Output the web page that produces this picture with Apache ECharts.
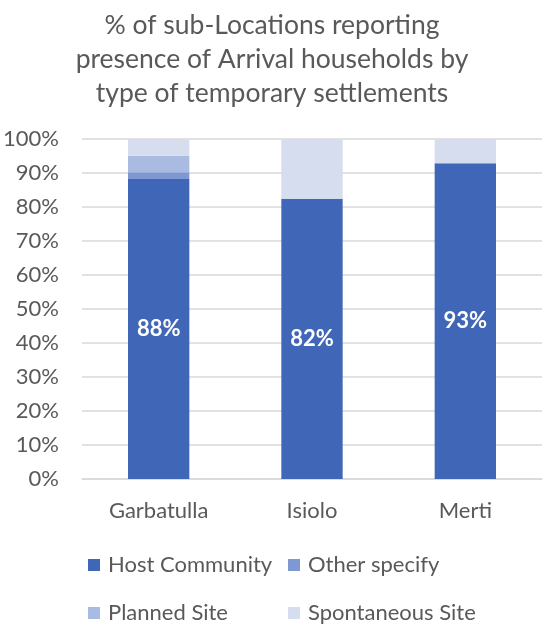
<!DOCTYPE html>
<html>
<head>
<meta charset="utf-8">
<script src="https://cdn.jsdelivr.net/npm/echarts@6/dist/echarts.min.js"></script>
<style>
  html, body { margin: 0; padding: 0; background: #ffffff; }
  #chart { width: 544px; height: 629px; }
</style>
</head>
<body>
<div id="chart"></div>
<script>
// Sub-locations reporting arrival households, by settlement type (percent)
const categories = ['Garbatulla', 'Isiolo', 'Merti'];
const hostCommunity = [88.2, 82.4, 92.9];
const otherSpecify = [2.0, 0, 0];
const plannedSite = [4.9, 0, 0];
const spontaneousSite = [4.9, 17.6, 7.1];
const yTicks = ['0%', '10%', '20%', '30%', '40%', '50%', '60%', '70%', '80%', '90%', '100%'];

const FONT = 'Lato, "Open Sans", sans-serif';
const TEXT = '#595959';
const GRID = '#d9d9d9';
const COLORS = {
  'Host Community': '#4066b8',
  'Other specify': '#7f98d2',
  'Planned Site': '#aabbe1',
  'Spontaneous Site': '#d6ddef'
};

const chart = echarts.init(document.getElementById('chart'), null, { renderer: 'canvas' });

function barSeries(name, data, showLabel) {
  return {
    name: name,
    type: 'bar',
    stack: 'total',
    data: data,
    barWidth: '40%',
    itemStyle: { color: COLORS[name] },
    emphasis: { disabled: true },
    label: showLabel ? {
      show: true,
      position: 'inside',
      color: '#ffffff',
      fontFamily: FONT,
      fontWeight: 'bold',
      fontSize: 22,
      formatter: p => Math.round(p.value) + '%'
    } : { show: false }
  };
}

// One legend block per entry, laid out as a 2x2 grid
function legendItem(name, left, top) {
  return {
    data: [name],
    left: left,
    top: top,
    padding: 0,
    icon: 'rect',
    itemWidth: 12,
    itemHeight: 12,
    textStyle: { color: TEXT, fontFamily: FONT, fontSize: 22, padding: [0, 0, 0, 3] }
  };
}

chart.setOption({
  animation: false,
  title: {
    text: '% of sub-Locations reporting\npresence of Arrival households by\ntype of temporary settlements',
    left: 'center',
    top: 3,
    textStyle: {
      color: TEXT,
      fontFamily: FONT,
      fontWeight: 'normal',
      fontSize: 26.5,
      lineHeight: 34
    }
  },
  legend: [
    legendItem('Host Community', 88, 554),
    legendItem('Other specify', 288, 554),
    legendItem('Planned Site', 88, 602),
    legendItem('Spontaneous Site', 288, 602)
  ],
  grid: { left: 82, right: 2, top: 139, bottom: 150, containLabel: false },
  xAxis: {
    type: 'category',
    data: categories,
    axisLine: { show: true, lineStyle: { color: GRID, width: 1.5 } },
    axisTick: { show: false },
    axisLabel: { color: TEXT, fontFamily: FONT, fontSize: 22, margin: 21 }
  },
  yAxis: {
    type: 'value',
    min: 0,
    max: 100,
    interval: 10,
    axisLine: { show: false },
    axisTick: { show: false },
    splitLine: { lineStyle: { color: GRID, width: 1.5 } },
    axisLabel: {
      color: TEXT,
      fontFamily: FONT,
      fontSize: 22,
      margin: 23,
      formatter: v => yTicks[Math.round(v / 10)]
    }
  },
  series: [
    barSeries('Host Community', hostCommunity, true),
    barSeries('Other specify', otherSpecify, false),
    barSeries('Planned Site', plannedSite, false),
    barSeries('Spontaneous Site', spontaneousSite, false)
  ]
});
</script>
</body>
</html>
